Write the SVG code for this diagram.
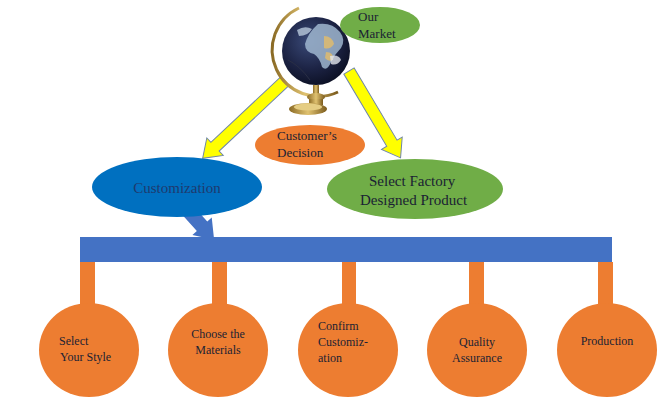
<svg xmlns="http://www.w3.org/2000/svg" width="659" height="415" viewBox="0 0 659 415">
<style>
text{font-family:"Liberation Serif","Times New Roman",serif;fill:#1a2233;}
.s12{font-size:12px;}
.s13{font-size:13px;}
.s15{font-size:15px;}
.orange{fill:#ED7D31;}
.green{fill:#70AD47;}
.yarrow{fill:#FFFF00;stroke:#6F86A8;stroke-width:1;}
</style>
<defs>
<radialGradient id="sph" cx="0.4" cy="0.35" r="0.7">
<stop offset="0" stop-color="#3a4a78"/>
<stop offset="0.6" stop-color="#1c2344"/>
<stop offset="1" stop-color="#0b0f22"/>
</radialGradient>
<linearGradient id="brass" x1="0" y1="0" x2="1" y2="0">
<stop offset="0" stop-color="#8a6a25"/>
<stop offset="0.5" stop-color="#e0c270"/>
<stop offset="1" stop-color="#7a5a1c"/>
</linearGradient>
</defs>
<rect width="659" height="415" fill="#ffffff"/>

<g id="connectors">
<path class="yarrow" transform="translate(285,81) rotate(136.8)" d="M0,-6 L96,-6 L96,-12 L113,0 L96,12 L96,6 L0,6 Z"/>
<path class="yarrow" transform="translate(349,71) rotate(59.3)" d="M0,-6 L84,-6 L84,-12 L101,0 L84,12 L84,6 L0,6 Z"/>
<path fill="#4472C4" transform="translate(182,204) rotate(48)" d="M0,-7 L30,-7 L30,-13 L48,0 L30,13 L30,7 L0,7 Z"/>
</g>

<g id="globe">
<path d="M299,8 A44,44 0 0 0 338,92" fill="none" stroke="url(#brass)" stroke-width="3"/>
<circle cx="316" cy="51" r="34" fill="url(#sph)"/>
<path d="M318,24 Q332,22 340,32 Q346,40 341,48 Q335,54 331,62 Q327,72 322,67 Q320,58 314,54 Q305,52 305,44 Q308,33 318,24 Z" fill="#9fb6cf" opacity="0.85"/>
<path d="M324,36 Q332,36 334,44 Q330,50 324,48 Z" fill="#d2b77a"/>
<path d="M326,52 Q334,52 333,60 Q328,62 325,58 Z" fill="#d2b77a"/>
<path d="M297,30 Q305,25 312,29 Q308,36 299,36 Z" fill="#b9c9dc" opacity="0.8"/>
<path d="M330,56 Q339,54 341,60 Q337,66 331,64 Z" fill="#e2e6ee" opacity="0.8"/>
<path d="M288,60 Q300,66 310,80" fill="none" stroke="#2a2f45" stroke-width="1"/>
<rect x="313" y="85" width="6" height="11" fill="url(#brass)"/>
<ellipse cx="316" cy="97" rx="9" ry="4" fill="url(#brass)"/>
<rect x="309" y="99" width="14" height="6" fill="url(#brass)"/>
<ellipse cx="308" cy="109" rx="19" ry="6" fill="url(#brass)"/>
<ellipse cx="308" cy="107" rx="14" ry="3.5" fill="#e5cd83"/>
</g>

<g id="our-market">
<ellipse class="green" cx="380" cy="25" rx="40" ry="18"/>
<text class="s13" x="358" y="21">Our</text>
<text class="s13" x="358" y="38">Market</text>
</g>

<g id="customers-decision">
<ellipse class="orange" cx="310" cy="145" rx="55" ry="20"/>
<text class="s13" x="277" y="140">Customer’s</text>
<text class="s13" x="277" y="157">Decision</text>
</g>

<g id="customization">
<ellipse fill="#0070C0" cx="177" cy="187" rx="85" ry="30"/>
<text class="s15" x="177" y="193" text-anchor="middle" style="fill:#1F3A6E">Customization</text>
</g>

<g id="select-factory">
<ellipse class="green" cx="415" cy="189" rx="88" ry="30"/>
<text class="s15" x="369" y="186">Select Factory</text>
<text class="s15" x="360" y="205">Designed Product</text>
</g>

<g id="bar">
<rect x="80" y="237" width="532" height="25" fill="#4472C4"/>
</g>

<g id="stem-1"><rect class="orange" x="80" y="262" width="15" height="44"/></g>
<g id="stem-2"><rect class="orange" x="212" y="262" width="15" height="44"/></g>
<g id="stem-3"><rect class="orange" x="342" y="262" width="14" height="44"/></g>
<g id="stem-4"><rect class="orange" x="469" y="262" width="15" height="44"/></g>
<g id="stem-5"><rect class="orange" x="598" y="262" width="15" height="44"/></g>

<g id="select-your-style">
<ellipse class="orange" cx="89" cy="350" rx="50" ry="47"/>
<text class="s12" x="59" y="345">Select</text>
<text class="s12" x="60" y="361">Your Style</text>
</g>

<g id="choose-materials">
<ellipse class="orange" cx="218" cy="350" rx="50" ry="47"/>
<text class="s12" x="218" y="338" text-anchor="middle">Choose the</text>
<text class="s12" x="218" y="354" text-anchor="middle">Materials</text>
</g>

<g id="confirm-customization">
<ellipse class="orange" cx="348" cy="350" rx="50" ry="47"/>
<text class="s12" x="318" y="330">Confirm</text>
<text class="s12" x="318" y="346">Customiz-</text>
<text class="s12" x="318" y="362">ation</text>
</g>

<g id="quality-assurance">
<ellipse class="orange" cx="477" cy="350" rx="50" ry="47"/>
<text class="s12" x="477" y="346" text-anchor="middle">Quality</text>
<text class="s12" x="477" y="362" text-anchor="middle">Assurance</text>
</g>

<g id="production">
<ellipse class="orange" cx="607" cy="350" rx="50" ry="47"/>
<text class="s12" x="607" y="345" text-anchor="middle">Production</text>
</g>
</svg>
